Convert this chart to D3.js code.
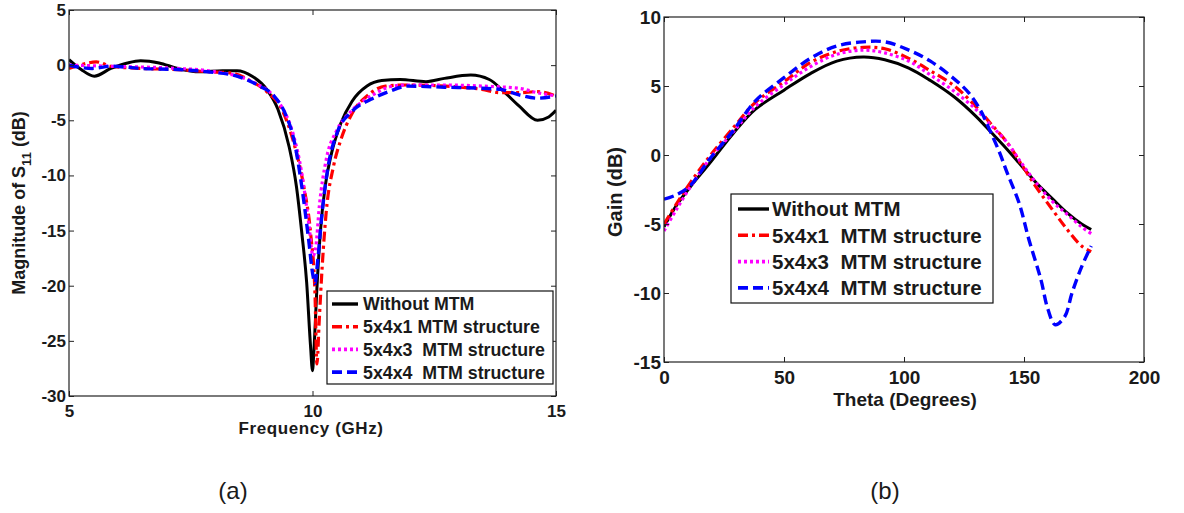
<!DOCTYPE html>
<html>
<head>
<meta charset="utf-8">
<script src="https://cdn.jsdelivr.net/npm/d3@7"></script>
<style>
  html, body { margin: 0; padding: 0; background: #fff; }
  svg { display: block; }
  text { font-family: Arial, "Liberation Sans", sans-serif; fill: #1a1a1a; }
</style>
</head>
<body>
<svg id="fig" width="1184" height="513"></svg>
<script>
// ---------- (a) Return loss: |S11| versus frequency ----------
const freqTicks = [5, 10, 15];
const s11Ticks = [5, 0, -5, -10, -15, -20, -25, -30];

const s11Without = [
  [5.0, 0.5], [5.25, -0.4], [5.52, -1.0], [5.86, -0.3], [6.2, 0.2], [6.47, 0.4], [6.85, 0.2],
  [7.23, -0.3], [7.69, -0.6], [8.15, -0.5], [8.45, -0.5], [8.76, -1.0], [9.06, -2.2],
  [9.29, -4.0], [9.52, -7.4], [9.67, -11.0], [9.78, -15.2], [9.88, -19.7], [9.96, -25.5],
  [10.0, -27.7], [10.03, -25.8], [10.09, -20.3], [10.16, -15.2], [10.26, -11.0],
  [10.39, -8.0], [10.58, -5.3], [10.81, -3.3], [11.12, -1.9], [11.42, -1.4], [11.8, -1.3],
  [12.33, -1.5], [12.71, -1.2], [13.25, -0.9], [13.63, -1.3], [13.93, -2.4], [14.24, -3.7],
  [14.62, -5.0], [14.85, -4.7], [15.0, -4.1]
];
const s11Mtm1 = [
  [5.0, -0.3], [5.3, 0.1], [5.56, 0.3], [5.86, -0.1], [6.47, -0.3], [7.23, -0.4], [7.84, -0.6],
  [8.3, -0.7], [8.76, -1.5], [9.06, -2.4], [9.37, -4.0], [9.6, -6.8], [9.82, -11.0],
  [9.96, -15.2], [10.05, -20.6], [10.09, -27.1], [10.14, -23.0], [10.2, -18.2],
  [10.28, -13.4], [10.43, -9.2], [10.58, -6.8], [10.81, -4.4], [11.12, -2.8], [11.5, -1.9],
  [11.95, -1.8], [12.71, -1.9], [13.48, -2.2], [13.86, -2.5], [14.24, -2.5], [14.62, -2.4],
  [15.0, -2.8]
];
const s11Mtm3 = [
  [5.0, 0.0], [5.86, -0.1], [7.23, -0.3], [7.84, -0.5], [8.76, -1.5], [9.37, -3.8],
  [9.6, -6.2], [9.78, -9.8], [9.93, -14.6], [10.01, -17.3], [10.07, -16.4], [10.14, -12.8],
  [10.28, -8.6], [10.5, -5.9], [10.81, -4.1], [11.2, -2.8], [11.65, -1.9], [11.95, -1.8],
  [12.71, -1.8], [13.48, -1.9], [14.24, -2.1], [14.62, -2.5], [15.0, -2.8]
];
const s11Mtm4 = [
  [5.0, 0.0], [5.48, -0.3], [5.86, -0.1], [6.47, -0.3], [7.23, -0.4], [7.84, -0.6],
  [8.45, -1.0], [8.91, -1.9], [9.21, -2.8], [9.44, -4.4], [9.63, -7.0], [9.78, -11.0],
  [9.92, -15.8], [10.01, -19.1], [10.05, -19.8], [10.11, -17.6], [10.19, -13.7],
  [10.32, -9.2], [10.5, -6.2], [10.81, -4.2], [11.2, -3.1], [11.57, -2.4], [11.95, -1.9],
  [12.71, -2.0], [13.48, -2.1], [13.86, -2.2], [14.24, -2.7], [14.62, -3.0], [15.0, -2.8]
];

// ---------- (b) Gain versus theta ----------
const thetaTicks = [0, 50, 100, 150, 200];
const gainTicks = [10, 5, 0, -5, -10, -15];

const gainWithout = [
  [0, -5.2], [5, -3.7], [11, -2.3], [19, -0.6], [29, 1.6], [38, 3.3], [50, 4.7], [61, 5.9],
  [72, 6.8], [83, 7.1], [92, 6.9], [102, 6.3], [111, 5.4], [121, 4.2], [130, 2.8],
  [136, 1.7], [143, 0.4], [149, -0.8], [155, -2.0], [162, -3.2], [168, -4.2], [174, -5.0],
  [178, -5.4]
];
const gainMtm1 = [
  [0, -5.0], [5, -3.6], [11, -2.0], [19, -0.1], [29, 2.0], [38, 3.8], [50, 5.3], [61, 6.7],
  [72, 7.5], [83, 7.8], [92, 7.7], [102, 7.0], [111, 6.1], [121, 5.0], [130, 3.5],
  [136, 2.3], [143, 0.9], [149, -0.7], [155, -2.3], [162, -4.0], [168, -5.4], [174, -6.6],
  [178, -7.0]
];
const gainMtm3 = [
  [0, -5.5], [5, -4.0], [11, -2.3], [19, -0.3], [29, 1.7], [38, 3.5], [50, 5.1], [61, 6.4],
  [72, 7.3], [83, 7.6], [92, 7.4], [102, 6.8], [111, 5.8], [121, 4.6], [130, 3.3],
  [136, 2.2], [143, 0.9], [149, -0.6], [155, -2.0], [162, -3.4], [168, -4.3], [174, -5.2],
  [178, -5.7]
];
const gainMtm4 = [
  [0, -3.2], [5, -2.9], [11, -2.2], [19, -0.3], [29, 1.8], [38, 3.9], [50, 5.6], [61, 7.0],
  [72, 7.9], [83, 8.2], [92, 8.2], [102, 7.6], [111, 6.8], [121, 5.5], [127, 4.5],
  [132, 3.2], [136, 1.7], [140, 0.1], [143, -1.3], [148, -3.5], [152, -6.1], [157, -9.0],
  [160, -11.2], [163, -12.3], [167, -11.7], [170, -10.0], [174, -8.1], [178, -6.6]
];

const seriesNamesA = ["Without MTM", "5x4x1 MTM structure", "5x4x3  MTM structure", "5x4x4  MTM structure"];
const seriesNamesB = ["Without MTM", "5x4x1  MTM structure", "5x4x3  MTM structure", "5x4x4  MTM structure"];

// line styles shared by both panels
const styles = [
  { color: "#000000", dash: null,          width: 3 },
  { color: "#ff0000", dash: "10,4,3,4",    width: 3.2 },
  { color: "#ff00ff", dash: "3,3",         width: 3.2 },
  { color: "#0000ff", dash: "10,5",        width: 3.4 }
];

const svg = d3.select("#fig");
const fmt = d => String(d);   // plain hyphen for negative tick values

function drawPanel(cfg) {
  const x = d3.scaleLinear().domain(cfg.xDomain).range(cfg.xRange);
  const y = d3.scaleLinear().domain(cfg.yDomain).range(cfg.yRange);
  const g = svg.append("g");
  const [x0, x1] = cfg.xRange, [y0, y1] = cfg.yRange; // y0 bottom, y1 top

  // curves, clipped to the plotting frame
  const clipId = "clip-" + cfg.id;
  svg.append("clipPath").attr("id", clipId).append("rect")
    .attr("x", x0).attr("y", y1).attr("width", x1 - x0).attr("height", y0 - y1);
  const line = d3.line().x(d => x(d[0])).y(d => y(d[1])).curve(cfg.curve);
  const plot = g.append("g").attr("clip-path", `url(#${clipId})`);
  cfg.series.forEach((s, i) => {
    plot.append("path").datum(s)
      .attr("d", line)
      .attr("fill", "none")
      .attr("stroke", styles[i].color)
      .attr("stroke-width", styles[i].width)
      .attr("stroke-dasharray", styles[i].dash)
      .attr("stroke-linejoin", "round");
  });

  // axes with inward ticks on all four sides
  const tl = 5;
  const axB = d3.axisBottom(x).tickValues(cfg.xTicks).tickSizeInner(-tl).tickSizeOuter(0).tickPadding(cfg.xPad).tickFormat(fmt);
  const axT = d3.axisTop(x).tickValues(cfg.xTicks).tickSizeInner(-tl).tickSizeOuter(0).tickFormat("");
  const axL = d3.axisLeft(y).tickValues(cfg.yTicks).tickSizeInner(-tl).tickSizeOuter(0).tickPadding(cfg.yPad).tickFormat(fmt);
  const axR = d3.axisRight(y).tickValues(cfg.yTicks).tickSizeInner(-tl).tickSizeOuter(0).tickFormat("");

  const styleAxis = (sel, fs) => {
    sel.select(".domain").remove();
    sel.selectAll("line").attr("stroke", "#222").attr("stroke-width", 1);
    sel.selectAll("text").attr("font-size", fs).attr("font-weight", "bold")
      .attr("fill", "#1a1a1a").attr("font-family", "Arial, 'Liberation Sans', sans-serif");
  };
  g.append("g").attr("transform", `translate(0,${y0})`).call(axB).call(styleAxis, cfg.tickFont);
  g.append("g").attr("transform", `translate(0,${y1})`).call(axT).call(styleAxis, cfg.tickFont);
  g.append("g").attr("transform", `translate(${x0},0)`).call(axL).call(styleAxis, cfg.tickFont);
  g.append("g").attr("transform", `translate(${x1},0)`).call(axR).call(styleAxis, cfg.tickFont);

  // frame
  g.append("rect").attr("x", x0).attr("y", y1).attr("width", x1 - x0).attr("height", y0 - y1)
    .attr("fill", "none").attr("stroke", "#222").attr("stroke-width", 1.2);

  // legend
  const L = cfg.legend;
  const lg = g.append("g");
  lg.append("rect").attr("x", L.x).attr("y", L.y).attr("width", L.w).attr("height", L.h)
    .attr("fill", "#fff").attr("stroke", "#111").attr("stroke-width", 1.2);
  cfg.names.forEach((name, i) => {
    const yy = L.y + L.first + i * L.step;
    lg.append("line").attr("x1", L.x + L.lx0).attr("x2", L.x + L.lx1)
      .attr("y1", yy).attr("y2", yy)
      .attr("stroke", styles[i].color).attr("stroke-width", styles[i].width + 0.4)
      .attr("stroke-dasharray", styles[i].dash);
    lg.append("text").attr("x", L.x + L.tx).attr("y", yy).attr("dy", "0.36em")
      .attr("font-size", L.font).attr("font-weight", "bold")
      .attr("xml:space", "preserve").style("white-space", "pre")
      .text(name);
  });
  return { x, y, g };
}

// panel (a)
const pa = drawPanel({
  id: "a",
  xDomain: [5, 15], xRange: [69, 556],
  yDomain: [-30, 5], yRange: [396, 10],
  xTicks: freqTicks, yTicks: s11Ticks, tickFont: 17, xPad: 9, yPad: 3,
  curve: d3.curveMonotoneX,
  series: [s11Without, s11Mtm1, s11Mtm3, s11Mtm4],
  names: seriesNamesA,
  legend: { x: 327, y: 291, w: 226, h: 93, first: 13, step: 22.7, lx0: 5, lx1: 31, tx: 36, font: 17.8 }
});
pa.g.append("text").attr("x", 311).attr("y", 434).attr("text-anchor", "middle")
  .attr("font-size", 17).attr("font-weight", "bold").attr("letter-spacing", 0.6)
  .text("Frequency (GHz)");
const ya = pa.g.append("text").attr("transform", "translate(25,203) rotate(-90)")
  .attr("text-anchor", "middle").attr("font-size", 18).attr("font-weight", "bold");
ya.append("tspan").text("Magnitude of S");
ya.append("tspan").attr("font-size", 13).attr("dy", 6).text("11");
ya.append("tspan").attr("dy", -6).text(" (dB)");

// panel (b)
const pb = drawPanel({
  id: "b",
  xDomain: [0, 200], xRange: [664, 1144],
  yDomain: [-15, 10], yRange: [362, 17],
  xTicks: thetaTicks, yTicks: gainTicks, tickFont: 19, xPad: 9, yPad: 3,
  curve: d3.curveCatmullRom.alpha(0.5),
  series: [gainWithout, gainMtm1, gainMtm3, gainMtm4],
  names: seriesNamesB,
  legend: { x: 731, y: 194, w: 262, h: 109, first: 15, step: 26.3, lx0: 7, lx1: 38, tx: 41, font: 20.5 }
});
pb.g.append("text").attr("x", 905).attr("y", 406).attr("text-anchor", "middle")
  .attr("font-size", 19).attr("font-weight", "bold").text("Theta (Degrees)");
pb.g.append("text").attr("transform", "translate(622,192) rotate(-90)")
  .attr("text-anchor", "middle").attr("font-size", 20).attr("font-weight", "bold").text("Gain (dB)");

// sub-figure captions
svg.append("text").attr("x", 233).attr("y", 499).attr("text-anchor", "middle")
  .attr("font-family", "Lato, 'Open Sans', sans-serif").attr("font-size", 24).text("(a)");
svg.append("text").attr("x", 885).attr("y", 499).attr("text-anchor", "middle")
  .attr("font-family", "Lato, 'Open Sans', sans-serif").attr("font-size", 24).text("(b)");
</script>
</body>
</html>
